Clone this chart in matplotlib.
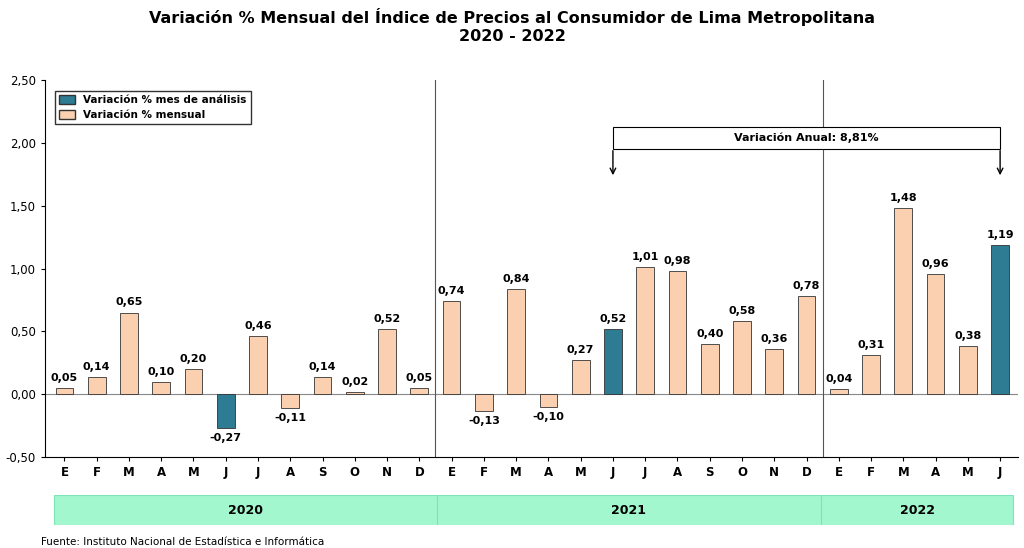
import matplotlib.pyplot as plt
from matplotlib.patches import Rectangle

months = ["E", "F", "M", "A", "M", "J", "J", "A", "S", "O", "N", "D"] * 2 + ["E", "F", "M", "A", "M", "J"]
values = [0.05, 0.14, 0.65, 0.10, 0.20, -0.27, 0.46, -0.11, 0.14, 0.02, 0.52, 0.05,
          0.74, -0.13, 0.84, -0.10, 0.27, 0.52, 1.01, 0.98, 0.40, 0.58, 0.36, 0.78,
          0.04, 0.31, 1.48, 0.96, 0.38, 1.19]
highlight = [5, 17, 29]
years = ["2020", "2021", "2022"]

peach = "#fbd0b0"
teal = "#2e7b94"

fig = plt.figure(figsize=(10.24, 5.48), dpi=100)
ax = fig.add_axes([0.044, 0.166, 0.950, 0.688])
x = range(len(values))
colors = [teal if i in highlight else peach for i in x]
ax.bar(x, values, width=0.55, color=colors, edgecolor="#333333", linewidth=0.6, zorder=3)
for i, v in enumerate(values):
    lab = f"{v:.2f}".replace(".", ",")
    if v >= 0:
        ax.text(i, v + 0.04, lab, ha="center", va="bottom", fontsize=8, fontweight="bold")
    else:
        ax.text(i, v - 0.04, lab, ha="center", va="top", fontsize=8, fontweight="bold")

ax.set_xlim(-0.6, len(values) - 0.45)
ax.set_ylim(-0.5, 2.5)
yt = [-0.5, 0, 0.5, 1.0, 1.5, 2.0, 2.5]
ax.set_yticks(yt)
ax.set_yticklabels([f"{t:.2f}".replace(".", ",") for t in yt], fontsize=8.5)
ax.set_xticks(list(x))
ax.set_xticklabels(months, fontsize=8.5, fontweight="bold")
ax.axhline(0, color="#888888", linewidth=0.8, zorder=2)
for s in [11.5, 23.5]:
    ax.axvline(s, color="#555555", linewidth=0.8)
for sp in ["top", "right"]:
    ax.spines[sp].set_visible(False)
ax.tick_params(length=3)

# annual variation bracket
ax.add_patch(Rectangle((17, 1.95), 12, 0.18, facecolor="white", edgecolor="black", linewidth=0.8, zorder=4))
ax.text(23, 2.04, "Variación Anual: 8,81%", ha="center", va="center", fontsize=8, fontweight="bold", zorder=5)
for xa in [17, 29]:
    ax.annotate("", xy=(xa, 1.72), xytext=(xa, 1.96),
                arrowprops=dict(arrowstyle="->", color="black", lw=1.0))

# legend
from matplotlib.patches import Patch
leg = ax.legend(handles=[Patch(facecolor=teal, edgecolor="#333333", label="Variación % mes de análisis"),
                         Patch(facecolor=peach, edgecolor="#333333", label="Variación % mensual")],
                loc="upper left", bbox_to_anchor=(0.005, 0.985), fontsize=7.5, frameon=True,
                fancybox=False, edgecolor="black", handlelength=1.5, handleheight=0.9)
for t in leg.get_texts():
    t.set_fontweight("bold")

# year bands
band = fig.add_axes([0.048, 0.042, 0.943, 0.054])
band.set_xlim(-0.6, len(values) - 0.45)
band.set_ylim(0, 1)
bounds = [(-0.45, 11.5), (11.5, 23.5), (23.5, 29.5)]
for (a, b), yr in zip(bounds, years):
    band.add_patch(Rectangle((a, 0), b - a, 1, facecolor="#a3f7cf", edgecolor="#7fe3b8", linewidth=0.8))
    band.text((a + b) / 2, 0.5, yr, ha="center", va="center", fontsize=9, fontweight="bold")
band.axis("off")

fig.suptitle("Variación % Mensual del Índice de Precios al Consumidor de Lima Metropolitana\n2020 - 2022",
             y=0.985, fontsize=11.5, fontweight="bold")
fig.text(0.04, 0.005, "Fuente: Instituto Nacional de Estadística e Informática", fontsize=7.5)
fig.savefig("out.png", dpi=100)
